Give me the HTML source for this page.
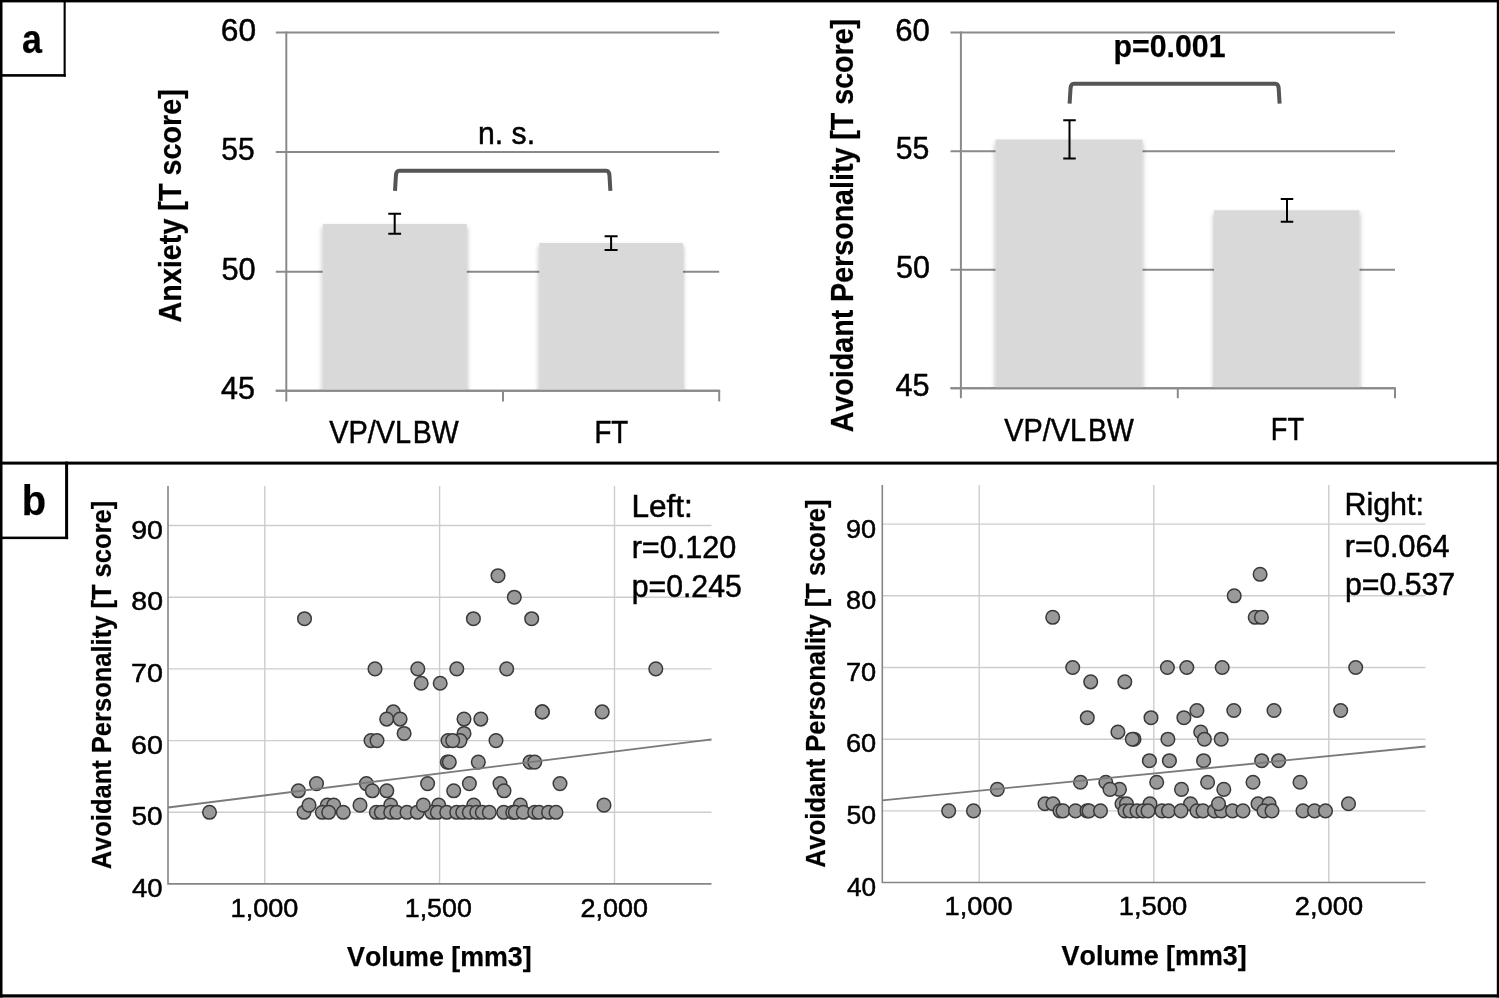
<!DOCTYPE html>
<html><head><meta charset="utf-8"><style>
html,body{margin:0;padding:0;background:#fff;}
svg{display:block;}
text{font-family:"Liberation Sans",sans-serif;font-kerning:none;}
.n{stroke:#000;stroke-width:0.5px;}
text{stroke:#000;stroke-width:0.25px;}
svg{will-change:transform;}
</style></head><body>
<svg width="1499" height="998" viewBox="0 0 1499 998">
<defs><filter id="sh" x="-10%" y="-10%" width="120%" height="120%"><feDropShadow dx="0" dy="3" stdDeviation="2.8" flood-color="#000" flood-opacity="0.3"/></filter></defs>
<rect x="0" y="0" width="1499" height="998" fill="#fff"/>
<g fill="#000">
<rect x="0" y="0" width="2.5" height="998"/>
<rect x="0" y="0" width="1499" height="2.4"/>
<rect x="1496.8" y="0" width="2.2" height="998"/>
<rect x="0" y="994.3" width="1499" height="3.2"/>
<rect x="0" y="461.6" width="1499" height="3"/>
<rect x="63.6" y="0" width="2.1" height="76.7"/>
<rect x="0" y="74.1" width="65.7" height="2.6"/>
<rect x="65.1" y="461.6" width="3" height="77.5"/>
<rect x="0" y="536.6" width="68.1" height="2.5"/>
</g>
<rect x="0" y="997.5" width="1499" height="0.5" fill="#777"/>
<text x="21.95" y="52.70" font-size="41" font-weight="bold" textLength="19.92" lengthAdjust="spacingAndGlyphs" fill="#000">a</text>
<text x="21.87" y="515.29" font-size="42.4" font-weight="bold" textLength="24.37" lengthAdjust="spacingAndGlyphs" fill="#000">b</text>
<line x1="275.8" y1="32.6" x2="719.2" y2="32.6" stroke="#8a8a8a" stroke-width="2"/>
<line x1="275.8" y1="151.9" x2="719.2" y2="151.9" stroke="#8a8a8a" stroke-width="2"/>
<line x1="275.8" y1="271.8" x2="719.2" y2="271.8" stroke="#8a8a8a" stroke-width="2"/>
<line x1="275.8" y1="390.8" x2="719.2" y2="390.8" stroke="#8a8a8a" stroke-width="2"/>
<line x1="286.3" y1="31.6" x2="286.3" y2="401.4" stroke="#8a8a8a" stroke-width="2"/>
<line x1="503.0" y1="390.8" x2="503.0" y2="401.4" stroke="#8a8a8a" stroke-width="2"/>
<line x1="719.2" y1="390.8" x2="719.2" y2="401.4" stroke="#8a8a8a" stroke-width="2"/>
<clipPath id="clip286"><rect x="275.8" y="0" width="463.40000000000003" height="390.8"/></clipPath>
<g clip-path="url(#clip286)">
<rect x="322.7" y="224.1" width="144.10000000000002" height="176.70000000000002" fill="#d9d9d9" filter="url(#sh)"/>
<rect x="539.3" y="243.0" width="143.70000000000005" height="157.8" fill="#d9d9d9" filter="url(#sh)"/>
</g>
<line x1="275.8" y1="390.8" x2="720.2" y2="390.8" stroke="#8a8a8a" stroke-width="2"/>
<path d="M388.30 213.7H401.10M394.7 213.7V233.8M388.30 233.8H401.10" stroke="#000" stroke-width="2" fill="none"/>
<path d="M604.60 236.3H617.60M611.1 236.3V250.0M604.60 250.0H617.60" stroke="#000" stroke-width="2" fill="none"/>
<path d="M395.00 190.9L395.90 175.80Q396.20 170.80 399.20 170.80H606.20Q609.20 170.80 609.50 175.80L610.40 190.9" stroke="#555" stroke-width="4" fill="none"/>
<line x1="950.5" y1="32.6" x2="1395.0" y2="32.6" stroke="#8a8a8a" stroke-width="2"/>
<line x1="950.5" y1="151.25" x2="1395.0" y2="151.25" stroke="#8a8a8a" stroke-width="2"/>
<line x1="950.5" y1="269.7" x2="1395.0" y2="269.7" stroke="#8a8a8a" stroke-width="2"/>
<line x1="950.5" y1="388.2" x2="1395.0" y2="388.2" stroke="#8a8a8a" stroke-width="2"/>
<line x1="960.9" y1="31.6" x2="960.9" y2="398.2" stroke="#8a8a8a" stroke-width="2"/>
<line x1="1177.8" y1="388.2" x2="1177.8" y2="398.2" stroke="#8a8a8a" stroke-width="2"/>
<line x1="1395.0" y1="388.2" x2="1395.0" y2="398.2" stroke="#8a8a8a" stroke-width="2"/>
<clipPath id="clip960"><rect x="950.5" y="0" width="464.5" height="388.2"/></clipPath>
<g clip-path="url(#clip960)">
<rect x="995.5" y="139.5" width="147.0" height="258.7" fill="#d9d9d9" filter="url(#sh)"/>
<rect x="1214.0" y="210.3" width="145.5" height="187.89999999999998" fill="#d9d9d9" filter="url(#sh)"/>
</g>
<line x1="950.5" y1="388.2" x2="1396.0" y2="388.2" stroke="#8a8a8a" stroke-width="2"/>
<path d="M1063.25 120.3H1075.75M1069.5 120.3V158.5M1063.25 158.5H1075.75" stroke="#000" stroke-width="2" fill="none"/>
<path d="M1280.75 199.1H1293.25M1287.0 199.1V221.8M1280.75 221.8H1293.25" stroke="#000" stroke-width="2" fill="none"/>
<path d="M1069.60 103.6L1070.50 88.80Q1070.80 83.80 1073.80 83.80H1275.40Q1278.40 83.80 1278.70 88.80L1279.60 103.6" stroke="#555" stroke-width="4" fill="none"/>
<text class="n" x="220.79" y="41.10" font-size="31" font-weight="normal" textLength="35.25" lengthAdjust="spacingAndGlyphs" fill="#000">60</text>
<text class="n" x="221.30" y="159.80" font-size="31" font-weight="normal" textLength="33.36" lengthAdjust="spacingAndGlyphs" fill="#000">55</text>
<text class="n" x="221.47" y="279.80" font-size="31" font-weight="normal" textLength="34.23" lengthAdjust="spacingAndGlyphs" fill="#000">50</text>
<text class="n" x="221.10" y="398.90" font-size="31" font-weight="normal" textLength="33.98" lengthAdjust="spacingAndGlyphs" fill="#000">45</text>
<text class="n" x="895.32" y="40.90" font-size="31" font-weight="normal" textLength="34.59" lengthAdjust="spacingAndGlyphs" fill="#000">60</text>
<text class="n" x="895.69" y="159.30" font-size="31" font-weight="normal" textLength="33.58" lengthAdjust="spacingAndGlyphs" fill="#000">55</text>
<text class="n" x="895.98" y="277.70" font-size="31" font-weight="normal" textLength="33.91" lengthAdjust="spacingAndGlyphs" fill="#000">50</text>
<text class="n" x="895.40" y="395.90" font-size="31" font-weight="normal" textLength="34.09" lengthAdjust="spacingAndGlyphs" fill="#000">45</text>
<text class="n" x="329.27" y="443.00" font-size="31" font-weight="normal" textLength="81.89" lengthAdjust="spacingAndGlyphs" fill="#000">VP/VL</text>
<text class="n" x="412.66" y="443.00" font-size="31" font-weight="normal" textLength="45.94" lengthAdjust="spacingAndGlyphs" fill="#000">BW</text>
<text class="n" x="594.43" y="443.40" font-size="31" font-weight="normal" textLength="33.80" lengthAdjust="spacingAndGlyphs" fill="#000">FT</text>
<text class="n" x="1004.27" y="440.60" font-size="31" font-weight="normal" textLength="81.68" lengthAdjust="spacingAndGlyphs" fill="#000">VP/VL</text>
<text class="n" x="1087.97" y="440.60" font-size="31" font-weight="normal" textLength="45.73" lengthAdjust="spacingAndGlyphs" fill="#000">BW</text>
<text class="n" x="1270.87" y="440.30" font-size="31" font-weight="normal" textLength="33.26" lengthAdjust="spacingAndGlyphs" fill="#000">FT</text>
<text class="n" x="477.99" y="143.60" font-size="31" font-weight="normal" textLength="57.06" lengthAdjust="spacingAndGlyphs" fill="#000">n. s.</text>
<text x="1113.50" y="57.30" font-size="32" font-weight="bold" textLength="112.04" lengthAdjust="spacingAndGlyphs" fill="#000">p=0.001</text>
<text transform="translate(181.10,321.70) rotate(-90)" x="-0.72" y="0" font-size="32" font-weight="bold" textLength="233.13" lengthAdjust="spacingAndGlyphs" fill="#000">Anxiety [T score]</text>
<text transform="translate(853.40,431.50) rotate(-90)" x="-0.71" y="0" font-size="32" font-weight="bold" textLength="413.32" lengthAdjust="spacingAndGlyphs" fill="#000">Avoidant Personality [T score]</text>
<g fill="#999" stroke="#3a3a3a" stroke-width="1.5">
</g>
<line x1="168" y1="812.3" x2="711.5" y2="812.3" stroke="#cdcdcd" stroke-width="1.4"/>
<line x1="168" y1="740.5999999999999" x2="711.5" y2="740.5999999999999" stroke="#cdcdcd" stroke-width="1.4"/>
<line x1="168" y1="668.9" x2="711.5" y2="668.9" stroke="#cdcdcd" stroke-width="1.4"/>
<line x1="168" y1="597.1999999999999" x2="711.5" y2="597.1999999999999" stroke="#cdcdcd" stroke-width="1.4"/>
<line x1="168" y1="525.5" x2="711.5" y2="525.5" stroke="#cdcdcd" stroke-width="1.4"/>
<line x1="264.8" y1="486" x2="264.8" y2="883.9" stroke="#cdcdcd" stroke-width="1.4"/>
<line x1="439.6" y1="486" x2="439.6" y2="883.9" stroke="#cdcdcd" stroke-width="1.4"/>
<line x1="614.5" y1="486" x2="614.5" y2="883.9" stroke="#cdcdcd" stroke-width="1.4"/>
<path d="M168 486V883.9H711.5" stroke="#858585" stroke-width="1.6" fill="none"/>
<g fill="#999" stroke="#3a3a3a" stroke-width="1.5">
<circle cx="498" cy="575.69" r="6.8"/>
<circle cx="514.3" cy="597.20" r="6.8"/>
<circle cx="304.5" cy="618.71" r="6.8"/>
<circle cx="473.4" cy="618.71" r="6.8"/>
<circle cx="531.7" cy="618.71" r="6.8"/>
<circle cx="375" cy="668.90" r="6.8"/>
<circle cx="417.8" cy="668.90" r="6.8"/>
<circle cx="456.8" cy="668.90" r="6.8"/>
<circle cx="506.7" cy="668.90" r="6.8"/>
<circle cx="655.8" cy="668.90" r="6.8"/>
<circle cx="421.2" cy="683.24" r="6.8"/>
<circle cx="440.2" cy="683.24" r="6.8"/>
<circle cx="393.3" cy="711.92" r="6.8"/>
<circle cx="542.3" cy="711.92" r="6.8"/>
<circle cx="542.3" cy="711.92" r="6.8"/>
<circle cx="602.2" cy="711.92" r="6.8"/>
<circle cx="386.7" cy="719.09" r="6.8"/>
<circle cx="400.1" cy="719.09" r="6.8"/>
<circle cx="464" cy="719.09" r="6.8"/>
<circle cx="480.8" cy="719.09" r="6.8"/>
<circle cx="404.1" cy="733.43" r="6.8"/>
<circle cx="464" cy="733.43" r="6.8"/>
<circle cx="371" cy="740.60" r="6.8"/>
<circle cx="377" cy="740.60" r="6.8"/>
<circle cx="448" cy="740.60" r="6.8"/>
<circle cx="460" cy="740.60" r="6.8"/>
<circle cx="452.7" cy="740.60" r="6.8"/>
<circle cx="496" cy="740.60" r="6.8"/>
<circle cx="447.3" cy="762.11" r="6.8"/>
<circle cx="449.3" cy="762.11" r="6.8"/>
<circle cx="478.3" cy="762.11" r="6.8"/>
<circle cx="530" cy="762.11" r="6.8"/>
<circle cx="534.7" cy="762.11" r="6.8"/>
<circle cx="316.5" cy="783.62" r="6.8"/>
<circle cx="366.4" cy="783.62" r="6.8"/>
<circle cx="427.6" cy="783.62" r="6.8"/>
<circle cx="469.4" cy="783.62" r="6.8"/>
<circle cx="500" cy="783.62" r="6.8"/>
<circle cx="560" cy="783.62" r="6.8"/>
<circle cx="298.4" cy="790.79" r="6.8"/>
<circle cx="372.3" cy="790.79" r="6.8"/>
<circle cx="386.8" cy="790.79" r="6.8"/>
<circle cx="453.7" cy="790.79" r="6.8"/>
<circle cx="504" cy="790.79" r="6.8"/>
<circle cx="327.3" cy="805.13" r="6.8"/>
<circle cx="333.7" cy="805.13" r="6.8"/>
<circle cx="360" cy="805.13" r="6.8"/>
<circle cx="390.7" cy="805.13" r="6.8"/>
<circle cx="438.7" cy="805.13" r="6.8"/>
<circle cx="473.7" cy="805.13" r="6.8"/>
<circle cx="520.3" cy="805.13" r="6.8"/>
<circle cx="604" cy="805.13" r="6.8"/>
<circle cx="209.5" cy="812.30" r="6.8"/>
<circle cx="304" cy="812.30" r="6.8"/>
<circle cx="322.3" cy="812.30" r="6.8"/>
<circle cx="328.7" cy="812.30" r="6.8"/>
<circle cx="343.3" cy="812.30" r="6.8"/>
<circle cx="376.3" cy="812.30" r="6.8"/>
<circle cx="381.3" cy="812.30" r="6.8"/>
<circle cx="390.7" cy="812.30" r="6.8"/>
<circle cx="396.7" cy="812.30" r="6.8"/>
<circle cx="407" cy="812.30" r="6.8"/>
<circle cx="417.3" cy="812.30" r="6.8"/>
<circle cx="431.7" cy="812.30" r="6.8"/>
<circle cx="437.3" cy="812.30" r="6.8"/>
<circle cx="446.7" cy="812.30" r="6.8"/>
<circle cx="456.7" cy="812.30" r="6.8"/>
<circle cx="462.7" cy="812.30" r="6.8"/>
<circle cx="469.3" cy="812.30" r="6.8"/>
<circle cx="476.7" cy="812.30" r="6.8"/>
<circle cx="482.3" cy="812.30" r="6.8"/>
<circle cx="489.3" cy="812.30" r="6.8"/>
<circle cx="503.7" cy="812.30" r="6.8"/>
<circle cx="512.7" cy="812.30" r="6.8"/>
<circle cx="515.3" cy="812.30" r="6.8"/>
<circle cx="523.3" cy="812.30" r="6.8"/>
<circle cx="534.7" cy="812.30" r="6.8"/>
<circle cx="539" cy="812.30" r="6.8"/>
<circle cx="548.5" cy="812.30" r="6.8"/>
<circle cx="556" cy="812.30" r="6.8"/>
<circle cx="309" cy="805.13" r="6.8"/>
<circle cx="423.3" cy="805.13" r="6.8"/>
</g>
<line x1="168" y1="807.5" x2="711.5" y2="739.4" stroke="#7a7a7a" stroke-width="1.8"/>
<line x1="882.3" y1="810.9" x2="1425.5" y2="810.9" stroke="#cdcdcd" stroke-width="1.4"/>
<line x1="882.3" y1="739.1999999999999" x2="1425.5" y2="739.1999999999999" stroke="#cdcdcd" stroke-width="1.4"/>
<line x1="882.3" y1="667.5" x2="1425.5" y2="667.5" stroke="#cdcdcd" stroke-width="1.4"/>
<line x1="882.3" y1="595.8" x2="1425.5" y2="595.8" stroke="#cdcdcd" stroke-width="1.4"/>
<line x1="882.3" y1="524.0999999999999" x2="1425.5" y2="524.0999999999999" stroke="#cdcdcd" stroke-width="1.4"/>
<line x1="979.2" y1="485" x2="979.2" y2="882.5" stroke="#cdcdcd" stroke-width="1.4"/>
<line x1="1153.8" y1="485" x2="1153.8" y2="882.5" stroke="#cdcdcd" stroke-width="1.4"/>
<line x1="1328.8" y1="485" x2="1328.8" y2="882.5" stroke="#cdcdcd" stroke-width="1.4"/>
<path d="M882.3 485V882.5H1425.5" stroke="#858585" stroke-width="1.6" fill="none"/>
<g fill="#999" stroke="#3a3a3a" stroke-width="1.5">
<circle cx="1260.1" cy="574.29" r="6.8"/>
<circle cx="1234.2" cy="595.80" r="6.8"/>
<circle cx="1052.7" cy="617.31" r="6.8"/>
<circle cx="1255.2" cy="617.31" r="6.8"/>
<circle cx="1261.4" cy="617.31" r="6.8"/>
<circle cx="1072.7" cy="667.50" r="6.8"/>
<circle cx="1167.4" cy="667.50" r="6.8"/>
<circle cx="1186.8" cy="667.50" r="6.8"/>
<circle cx="1222.2" cy="667.50" r="6.8"/>
<circle cx="1355.7" cy="667.50" r="6.8"/>
<circle cx="1090.7" cy="681.84" r="6.8"/>
<circle cx="1124.8" cy="681.84" r="6.8"/>
<circle cx="1196.9" cy="710.52" r="6.8"/>
<circle cx="1233.8" cy="710.52" r="6.8"/>
<circle cx="1274" cy="710.52" r="6.8"/>
<circle cx="1340.7" cy="710.52" r="6.8"/>
<circle cx="1087.3" cy="717.69" r="6.8"/>
<circle cx="1151" cy="717.69" r="6.8"/>
<circle cx="1183.9" cy="717.69" r="6.8"/>
<circle cx="1117.9" cy="732.03" r="6.8"/>
<circle cx="1200.7" cy="732.03" r="6.8"/>
<circle cx="1134" cy="739.20" r="6.8"/>
<circle cx="1132.3" cy="739.20" r="6.8"/>
<circle cx="1167.9" cy="739.20" r="6.8"/>
<circle cx="1204.4" cy="739.20" r="6.8"/>
<circle cx="1221.2" cy="739.20" r="6.8"/>
<circle cx="1149.4" cy="760.71" r="6.8"/>
<circle cx="1169.4" cy="760.71" r="6.8"/>
<circle cx="1203.6" cy="760.71" r="6.8"/>
<circle cx="1261.7" cy="760.71" r="6.8"/>
<circle cx="1278.6" cy="760.71" r="6.8"/>
<circle cx="1080.5" cy="782.22" r="6.8"/>
<circle cx="1105.8" cy="782.22" r="6.8"/>
<circle cx="1156.7" cy="782.22" r="6.8"/>
<circle cx="1207.6" cy="782.22" r="6.8"/>
<circle cx="1253" cy="782.22" r="6.8"/>
<circle cx="1300" cy="782.22" r="6.8"/>
<circle cx="997.3" cy="789.39" r="6.8"/>
<circle cx="1119.5" cy="789.39" r="6.8"/>
<circle cx="1110" cy="789.39" r="6.8"/>
<circle cx="1181.5" cy="789.39" r="6.8"/>
<circle cx="1223.8" cy="789.39" r="6.8"/>
<circle cx="1045" cy="803.73" r="6.8"/>
<circle cx="1053" cy="803.73" r="6.8"/>
<circle cx="1122" cy="803.73" r="6.8"/>
<circle cx="1126.5" cy="803.73" r="6.8"/>
<circle cx="1150" cy="803.73" r="6.8"/>
<circle cx="1190.5" cy="803.73" r="6.8"/>
<circle cx="1258" cy="803.73" r="6.8"/>
<circle cx="1269" cy="803.73" r="6.8"/>
<circle cx="1348.5" cy="803.73" r="6.8"/>
<circle cx="948.7" cy="810.90" r="6.8"/>
<circle cx="973.5" cy="810.90" r="6.8"/>
<circle cx="1060" cy="810.90" r="6.8"/>
<circle cx="1063" cy="810.90" r="6.8"/>
<circle cx="1075.5" cy="810.90" r="6.8"/>
<circle cx="1087" cy="810.90" r="6.8"/>
<circle cx="1089" cy="810.90" r="6.8"/>
<circle cx="1100.5" cy="810.90" r="6.8"/>
<circle cx="1125" cy="810.90" r="6.8"/>
<circle cx="1130" cy="810.90" r="6.8"/>
<circle cx="1137" cy="810.90" r="6.8"/>
<circle cx="1143" cy="810.90" r="6.8"/>
<circle cx="1148" cy="810.90" r="6.8"/>
<circle cx="1162" cy="810.90" r="6.8"/>
<circle cx="1168.5" cy="810.90" r="6.8"/>
<circle cx="1181" cy="810.90" r="6.8"/>
<circle cx="1197" cy="810.90" r="6.8"/>
<circle cx="1203" cy="810.90" r="6.8"/>
<circle cx="1214.5" cy="810.90" r="6.8"/>
<circle cx="1221.5" cy="810.90" r="6.8"/>
<circle cx="1232.5" cy="810.90" r="6.8"/>
<circle cx="1243" cy="810.90" r="6.8"/>
<circle cx="1264" cy="810.90" r="6.8"/>
<circle cx="1272" cy="810.90" r="6.8"/>
<circle cx="1303" cy="810.90" r="6.8"/>
<circle cx="1314.5" cy="810.90" r="6.8"/>
<circle cx="1325.5" cy="810.90" r="6.8"/>
<circle cx="1218.5" cy="803.73" r="6.8"/>
</g>
<line x1="882.3" y1="800.4" x2="1425.5" y2="746.5" stroke="#7a7a7a" stroke-width="1.8"/>
<text class="n" x="131.26" y="539.10" font-size="26" font-weight="normal" textLength="31.75" lengthAdjust="spacingAndGlyphs" fill="#000">90</text>
<text class="n" x="131.36" y="610.20" font-size="26" font-weight="normal" textLength="31.65" lengthAdjust="spacingAndGlyphs" fill="#000">80</text>
<text class="n" x="131.13" y="682.00" font-size="26" font-weight="normal" textLength="31.89" lengthAdjust="spacingAndGlyphs" fill="#000">70</text>
<text class="n" x="131.14" y="753.70" font-size="26" font-weight="normal" textLength="31.87" lengthAdjust="spacingAndGlyphs" fill="#000">60</text>
<text class="n" x="131.48" y="825.40" font-size="26" font-weight="normal" textLength="31.11" lengthAdjust="spacingAndGlyphs" fill="#000">50</text>
<text class="n" x="131.97" y="897.10" font-size="26" font-weight="normal" textLength="30.61" lengthAdjust="spacingAndGlyphs" fill="#000">40</text>
<text class="n" x="846.03" y="538.10" font-size="26" font-weight="normal" textLength="30.13" lengthAdjust="spacingAndGlyphs" fill="#000">90</text>
<text class="n" x="846.13" y="608.90" font-size="26" font-weight="normal" textLength="30.03" lengthAdjust="spacingAndGlyphs" fill="#000">80</text>
<text class="n" x="845.91" y="680.60" font-size="26" font-weight="normal" textLength="30.26" lengthAdjust="spacingAndGlyphs" fill="#000">70</text>
<text class="n" x="845.92" y="752.30" font-size="26" font-weight="normal" textLength="30.24" lengthAdjust="spacingAndGlyphs" fill="#000">60</text>
<text class="n" x="846.53" y="823.90" font-size="26" font-weight="normal" textLength="29.61" lengthAdjust="spacingAndGlyphs" fill="#000">50</text>
<text class="n" x="847.00" y="896.00" font-size="26" font-weight="normal" textLength="29.12" lengthAdjust="spacingAndGlyphs" fill="#000">40</text>
<text class="n" x="230.64" y="916.70" font-size="26" font-weight="normal" textLength="67.82" lengthAdjust="spacingAndGlyphs" fill="#000">1,000</text>
<text class="n" x="404.76" y="916.70" font-size="26" font-weight="normal" textLength="67.09" lengthAdjust="spacingAndGlyphs" fill="#000">1,500</text>
<text class="n" x="580.54" y="916.70" font-size="26" font-weight="normal" textLength="67.51" lengthAdjust="spacingAndGlyphs" fill="#000">2,000</text>
<text class="n" x="944.63" y="915.30" font-size="26" font-weight="normal" textLength="68.14" lengthAdjust="spacingAndGlyphs" fill="#000">1,000</text>
<text class="n" x="1118.71" y="915.30" font-size="26" font-weight="normal" textLength="68.56" lengthAdjust="spacingAndGlyphs" fill="#000">1,500</text>
<text class="n" x="1294.83" y="915.30" font-size="26" font-weight="normal" textLength="68.24" lengthAdjust="spacingAndGlyphs" fill="#000">2,000</text>
<text x="347.12" y="966.00" font-size="27.5" font-weight="bold" textLength="184.49" lengthAdjust="spacingAndGlyphs" fill="#000">Volume [mm3]</text>
<text x="1061.62" y="965.00" font-size="27.5" font-weight="bold" textLength="185.09" lengthAdjust="spacingAndGlyphs" fill="#000">Volume [mm3]</text>
<text transform="translate(111.10,868.70) rotate(-90)" x="-0.64" y="0" font-size="27.5" font-weight="bold" textLength="368.47" lengthAdjust="spacingAndGlyphs" fill="#000">Avoidant Personality [T score]</text>
<text transform="translate(825.00,867.20) rotate(-90)" x="-0.63" y="0" font-size="27.5" font-weight="bold" textLength="368.37" lengthAdjust="spacingAndGlyphs" fill="#000">Avoidant Personality [T score]</text>
<text class="n" x="631.41" y="516.60" font-size="31" font-weight="normal" textLength="61.48" lengthAdjust="spacingAndGlyphs" fill="#000">Left:</text>
<text class="n" x="631.67" y="558.10" font-size="31" font-weight="normal" textLength="104.73" lengthAdjust="spacingAndGlyphs" fill="#000">r=0.120</text>
<text class="n" x="631.75" y="597.20" font-size="31" font-weight="normal" textLength="110.01" lengthAdjust="spacingAndGlyphs" fill="#000">p=0.245</text>
<text class="n" x="1344.40" y="515.20" font-size="31" font-weight="normal" textLength="79.58" lengthAdjust="spacingAndGlyphs" fill="#000">Right:</text>
<text class="n" x="1344.87" y="556.80" font-size="31" font-weight="normal" textLength="104.53" lengthAdjust="spacingAndGlyphs" fill="#000">r=0.064</text>
<text class="n" x="1344.95" y="595.20" font-size="31" font-weight="normal" textLength="110.27" lengthAdjust="spacingAndGlyphs" fill="#000">p=0.537</text>
</svg>
</body></html>
